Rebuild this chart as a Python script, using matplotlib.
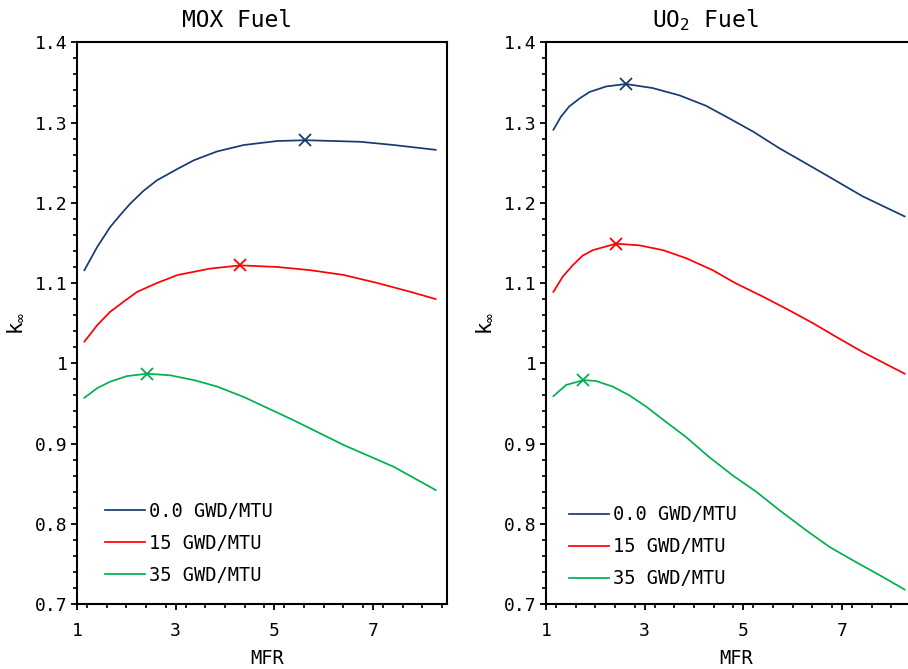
import matplotlib
matplotlib.use("Agg")
import matplotlib.pyplot as plt
from matplotlib.ticker import MultipleLocator

plt.rcParams['font.family'] = ['DejaVu Sans Mono', 'DejaVu Sans']
plt.rcParams['mathtext.fontset'] = 'custom'
plt.rcParams['mathtext.rm'] = 'DejaVu Sans Mono'
plt.rcParams['mathtext.it'] = 'DejaVu Sans Mono'

# ---- data ----
series_labels = ["0.0 GWD/MTU", "15 GWD/MTU", "35 GWD/MTU"]
series_colors = ["#173A70", "#FF0000", "#00B050"]

# MOX fuel
mox_x0 = [1.15, 1.41, 1.675, 1.88, 2.08, 2.35, 2.62, 3.03, 3.37, 3.84, 4.38, 5.06, 5.63, 6.75, 7.42, 8.27]
mox_y0 = [1.116, 1.145, 1.170, 1.185, 1.199, 1.215, 1.228, 1.242, 1.253, 1.264, 1.272, 1.277, 1.278, 1.276, 1.272, 1.266]
mox_x15 = [1.15, 1.41, 1.67, 1.95, 2.22, 2.62, 3.04, 3.70, 4.31, 5.06, 5.73, 6.41, 7.09, 7.76, 8.27]
mox_y15 = [1.027, 1.0475, 1.064, 1.077, 1.089, 1.100, 1.110, 1.118, 1.122, 1.120, 1.116, 1.110, 1.100, 1.089, 1.080]
mox_x35 = [1.15, 1.41, 1.67, 2.01, 2.42, 2.89, 3.37, 3.84, 4.38, 5.39, 6.41, 7.42, 8.27]
mox_y35 = [0.957, 0.969, 0.977, 0.984, 0.987, 0.985, 0.979, 0.971, 0.958, 0.929, 0.898, 0.871, 0.842]
mox_peak_x = [5.63, 4.31, 2.42]
mox_peak_y = [1.278, 1.122, 0.987]

# UO2 fuel
uo2_x0 = [1.15, 1.30, 1.47, 1.68, 1.88, 2.22, 2.62, 3.16, 3.70, 4.24, 4.72, 5.19, 5.73, 6.27, 6.75, 7.42, 8.27]
uo2_y0 = [1.291, 1.307, 1.320, 1.330, 1.338, 1.345, 1.348, 1.343, 1.334, 1.321, 1.305, 1.289, 1.268, 1.249, 1.232, 1.208, 1.183]
uo2_x15 = [1.15, 1.34, 1.54, 1.74, 1.95, 2.42, 2.89, 3.37, 3.84, 4.38, 4.85, 5.40, 5.93, 6.41, 6.88, 7.42, 8.27]
uo2_y15 = [1.089, 1.108, 1.122, 1.134, 1.141, 1.149, 1.147, 1.141, 1.131, 1.116, 1.0995, 1.083, 1.066, 1.050, 1.033, 1.014, 0.987]
uo2_x35 = [1.15, 1.41, 1.76, 2.01, 2.35, 2.69, 3.03, 3.43, 3.84, 4.31, 4.79, 5.26, 5.73, 6.27, 6.75, 7.29, 7.76, 8.27]
uo2_y35 = [0.959, 0.973, 0.979, 0.978, 0.971, 0.960, 0.946, 0.927, 0.908, 0.883, 0.860, 0.840, 0.817, 0.792, 0.771, 0.752, 0.736, 0.718]
uo2_peak_x = [2.62, 2.42, 1.76]
uo2_peak_y = [1.348, 1.149, 0.979]

x_ticks = [1, 3, 5, 7]
y_ticks = [0.7, 0.8, 0.9, 1.0, 1.1, 1.2, 1.3, 1.4]
y_tick_labels = ["0.7", "0.8", "0.9", "1", "1.1", "1.2", "1.3", "1.4"]

W, H = 908, 669
fig = plt.figure(figsize=(W / 100, H / 100), dpi=100)

def px_axes(left, right, top, bottom):
    return fig.add_axes([left / W, 1 - bottom / H, (right - left) / W, (bottom - top) / H])

ax1 = px_axes(77, 447, 42.3, 604)
ax2 = px_axes(546, 916, 42.3, 604)

panels = [
    (ax1, "MOX Fuel", [(mox_x0, mox_y0), (mox_x15, mox_y15), (mox_x35, mox_y35)],
     mox_peak_x, mox_peak_y, (0.0757, 0.108)),
    (ax2, "UO$_2$ Fuel", [(uo2_x0, uo2_y0), (uo2_x15, uo2_y15), (uo2_x35, uo2_y35)],
     uo2_peak_x, uo2_peak_y, (0.063, 0.102)),
]

for ax, title, data, px, py, leg_anchor in panels:
    for (xs, ys), lab, col in zip(data, series_labels, series_colors):
        ax.plot(xs, ys, color=col, lw=1.25, label=lab, solid_joinstyle='round')
    for x, y, col in zip(px, py, series_colors):
        ax.plot([x], [y], marker='x', color=col, ms=8, mew=1.3, ls='none')
    ax.set_xlim(1, 8.5)
    ax.set_ylim(0.7, 1.4)
    ax.set_xticks(x_ticks)
    ax.set_yticks(y_ticks)
    ax.set_yticklabels(y_tick_labels)
    ax.xaxis.set_minor_locator(MultipleLocator(0.4))
    ax.yaxis.set_minor_locator(MultipleLocator(0.02))
    ax.tick_params(axis='both', which='major', direction='out', length=4, width=1.3,
                   labelsize=13)
    ax.tick_params(axis='both', which='minor', direction='out', length=2.8, width=1.2)
    ax.tick_params(axis='x', which='major', pad=9)
    ax.tick_params(axis='y', which='major', pad=3)
    for s in ax.spines.values():
        s.set_linewidth(1.5)
    ax.set_title(title, fontsize=16.5, x=0.432, pad=11)
    ax.set_xlabel("MFR", fontsize=13.5, va='center')
    ax.xaxis.set_label_coords(0.515, -0.097)
    ax.set_ylabel(r"k$_\infty$", fontsize=15)
    ax.yaxis.set_label_coords(-0.14, 0.5)
    ax.legend(loc='center left', bbox_to_anchor=leg_anchor, frameon=False,
              fontsize=13.5, handlelength=2.13, handletextpad=0.2,
              labelspacing=0.7, borderpad=0, borderaxespad=0)

fig.savefig("out.png", dpi=100)
